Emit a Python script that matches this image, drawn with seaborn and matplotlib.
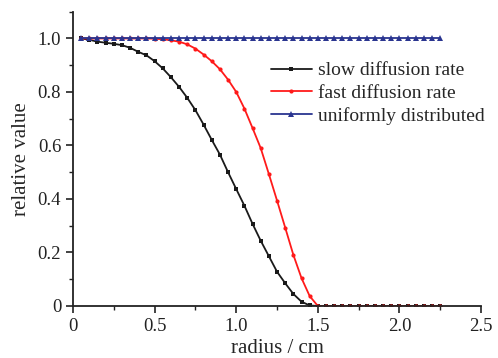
import numpy as np
import pandas as pd
import seaborn as sns
import matplotlib
matplotlib.use("Agg")
import matplotlib.pyplot as plt
from matplotlib.ticker import MultipleLocator, FuncFormatter

radius = [round(0.05 * i, 2) for i in range(1, 46)]
slow = [1.0, 0.995, 0.988, 0.984, 0.98, 0.975, 0.965, 0.95, 0.937, 0.915,
        0.888, 0.855, 0.819, 0.778, 0.732, 0.678, 0.621, 0.566, 0.50, 0.437,
        0.375, 0.307, 0.244, 0.186, 0.128, 0.085, 0.045, 0.016, 0.002, 0.0,
        0, 0, 0, 0, 0, 0, 0, 0, 0, 0, 0, 0, 0, 0, 0]
fast = [1.0, 1.0, 1.0, 1.0, 1.0, 1.0, 1.0, 1.0, 1.0, 0.999,
        0.997, 0.993, 0.988, 0.978, 0.962, 0.94, 0.915, 0.885, 0.846, 0.80,
        0.738, 0.665, 0.59, 0.493, 0.394, 0.293, 0.191, 0.104, 0.037, 0.0,
        0, 0, 0, 0, 0, 0, 0, 0, 0, 0, 0, 0, 0, 0, 0]
uniform = [1.0] * 45
labels = ["slow diffusion rate", "fast diffusion rate", "uniformly distributed"]

sns.set_style("ticks")
plt.rcParams['font.family'] = ['Liberation Serif', 'DejaVu Serif']
plt.rcParams['xtick.direction'] = 'out'
plt.rcParams['ytick.direction'] = 'out'

fig = plt.figure(figsize=(4.98, 3.58), dpi=100)
ax = fig.add_axes([0.1466, 0.1453, 0.8194, 0.8220])

series = [
    (slow, labels[0], "#1a1a1a", "s", 3.0),
    (fast, labels[1], "#ff1a1a", "o", 3.0),
    (uniform, labels[2], "#2a3590", "^", 4.0),
]
for vals, lab, col, mk, ms in series:
    df = pd.DataFrame({"radius": radius, "value": vals})
    sns.lineplot(data=df, x="radius", y="value", ax=ax, color=col, marker=mk,
                 markersize=ms, markeredgewidth=0, linewidth=1.3, label=lab)

ax.set_xlim(0, 2.5)
ax.set_ylim(0, 1.1)
ax.xaxis.set_major_locator(MultipleLocator(0.5))
ax.xaxis.set_minor_locator(MultipleLocator(0.25))
ax.yaxis.set_major_locator(MultipleLocator(0.2))
ax.yaxis.set_minor_locator(MultipleLocator(0.1))
fmt = FuncFormatter(lambda v, p: "0" if abs(v) < 1e-9 else f"{v:.1f}")
ax.xaxis.set_major_formatter(fmt)
ax.yaxis.set_major_formatter(fmt)
ax.tick_params(which='major', length=5, width=1.2, labelsize=13.5, colors='#222222')
ax.tick_params(which='minor', length=3, width=1.0, colors='#222222')
for s in ['top', 'right']:
    ax.spines[s].set_visible(False)
for s in ['left', 'bottom']:
    ax.spines[s].set_linewidth(1.3)
    ax.spines[s].set_color('#222222')

ax.set_xlabel("radius / cm", fontsize=15, labelpad=3)
ax.set_ylabel("relative value", fontsize=15, labelpad=5)

leg = ax.legend(loc='upper left', bbox_to_anchor=(0.485, 0.83), frameon=False,
                fontsize=14, handlelength=2.1, handletextpad=0.3,
                labelspacing=0.25, borderaxespad=0, borderpad=0)

fig.savefig("out.png", dpi=100)
